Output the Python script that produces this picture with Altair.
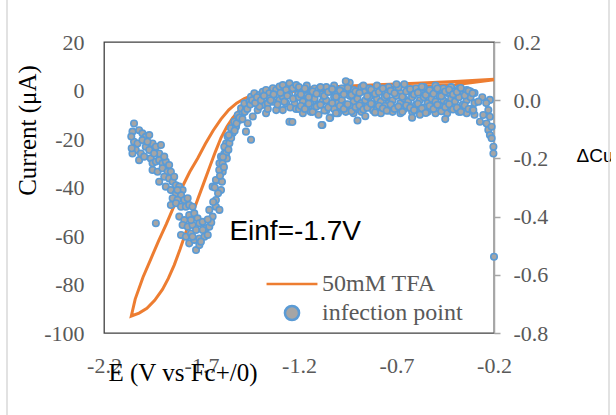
import altair as alt
import pandas as pd

SERIES = ["50mM TFA", "infection point"]
X_TICKS = [-2.2, -1.7, -1.2, -0.7, -0.2]
Y_LEFT_TICKS = [-100, -80, -60, -40, -20, 0, 20]
Y_RIGHT_TICKS = [-0.8, -0.6, -0.4, -0.2, 0.0, 0.2]

# ---- CV curve (50mM TFA), left axis: outer branch (right -> tip), then inner branch (tip -> right)
CV_OUT_E = [-0.20, -0.40, -0.60, -0.80, -1.00, -1.20, -1.30, -1.35, -1.40, -1.44, -1.48, -1.52, -1.56,
            -1.60, -1.64, -1.68, -1.72, -1.76, -1.80, -1.84, -1.88, -1.92, -1.96, -2.00, -2.04, -2.06]
CV_OUT_I = [4.6, 3.7, 3.0, 2.4, 1.7, 0.9, 0.1, -0.4, -1.2, -2.0, -3.3, -5.2, -8.0,
            -11.8, -16.5, -22.0, -28.0, -33.5, -40.0, -47.5, -55.0, -62.0, -69.5, -77.0, -86.0, -93.0]
CV_IN_E = [-2.02, -1.98, -1.94, -1.90, -1.87, -1.84, -1.81, -1.78, -1.75, -1.72, -1.69, -1.66, -1.63, -1.60,
           -1.57, -1.54, -1.51, -1.47, -1.43, -1.39, -1.35, -1.28, -1.20, -1.00, -0.80, -0.60, -0.40, -0.20]
CV_IN_I = [-91.8, -89.8, -86.5, -82.0, -77.5, -72.0, -65.5, -58.5, -51.5, -45.0, -38.5, -32.0, -25.5, -19.5,
           -15.0, -11.3, -8.5, -5.8, -3.8, -2.4, -1.4, -0.6, -0.2, 0.4, 1.0, 1.6, 2.4, 4.4]

# ---- derivative scatter ("infection point"), right axis
LEFT_E = [-2.046, -2.054, -2.020, -2.003, -1.986, -1.968, -2.046, -2.028, -2.037, -2.054,
          -2.011, -1.986, -1.968, -1.951, -1.934, -1.917, -1.908, -2.020, -1.994, -1.960,
          -1.951, -1.934, -1.917, -1.900, -1.883, -1.866, -1.951, -1.925, -1.900, -1.874,
          -1.857, -1.917, -1.891, -1.866, -1.848, -1.831, -1.814, -1.797, -1.883, -1.857,
          -1.831, -1.805, -1.848, -1.823, -1.788, -1.771, -1.857, -1.831, -1.805, -1.780,
          -1.763, -1.814, -1.788, -1.763, -1.737, -1.720, -1.797, -1.771, -1.746, -1.711,
          -1.694, -1.805, -1.780, -1.754, -1.728, -1.677, -1.763, -1.737, -1.711, -1.685,
          -1.728, -1.711, -1.668, -1.660, -1.934, -2.003, -1.977, -1.943, -1.891, -1.840,
          -1.823, -1.746, -1.754, -1.694, -1.746, -1.703, -2.060, -2.058]
LEFT_V = [-0.080, -0.108, -0.103, -0.114, -0.126, -0.120, -0.143, -0.149, -0.171, -0.183,
          -0.183, -0.160, -0.171, -0.149, -0.160, -0.183, -0.154, -0.206, -0.194, -0.200,
          -0.217, -0.211, -0.206, -0.217, -0.211, -0.223, -0.240, -0.246, -0.234, -0.246,
          -0.246, -0.280, -0.263, -0.269, -0.280, -0.292, -0.297, -0.309, -0.297, -0.309,
          -0.320, -0.326, -0.337, -0.343, -0.343, -0.337, -0.360, -0.354, -0.366, -0.366,
          -0.360, -0.400, -0.412, -0.395, -0.389, -0.406, -0.429, -0.435, -0.429, -0.423,
          -0.418, -0.463, -0.469, -0.458, -0.446, -0.440, -0.492, -0.480, -0.475, -0.469,
          -0.515, -0.498, -0.463, -0.435, -0.423, -0.137, -0.143, -0.183, -0.194, -0.263,
          -0.309, -0.366, -0.412, -0.446, -0.469, -0.486, -0.125, -0.165]

RISE_E = [-1.660, -1.643, -1.626, -1.608, -1.626, -1.600, -1.617, -1.591, -1.608, -1.583, -1.574,
          -1.643, -1.626, -1.609, -1.592, -1.600, -1.574, -1.583, -1.557, -1.566, -1.540,
          -1.549, -1.523, -1.532, -1.506, -1.514, -1.489, -1.497, -1.472, -1.480, -1.454,
          -1.446, -1.420, -1.429, -1.403, -1.386, -1.369, -1.352, -1.334, -1.317, -1.300,
          -1.283, -1.266, -1.249, -1.232, -1.214,
          -1.446, -1.472, -1.463, -1.437, -1.412, -1.386, -1.360, -1.334, -1.300, -1.266,
          -1.249, -1.283, -1.223, -1.369, -1.403, -1.317, -1.249, -1.283, -1.352,
          -1.650, -1.668, -1.640, -1.615, -1.632, -1.595, -1.605, -1.585, -1.570, -1.590,
          -1.562, -1.548, -1.560, -1.530, -1.520, -1.505, -1.490, -1.478, -1.465, -1.450,
          -1.440, -1.425, -1.415, -1.395, -1.380, -1.360, -1.345, -1.330, -1.310, -1.295,
          -1.275, -1.260, -1.245, -1.230, -1.215, -1.205]
RISE_V = [-0.377, -0.400, -0.366, -0.377, -0.343, -0.309, -0.274, -0.246, -0.217, -0.183, -0.149,
          -0.297, -0.274, -0.240, -0.217, -0.194, -0.182, -0.160, -0.148, -0.125, -0.113,
          -0.096, -0.091, -0.074, -0.068, -0.051, -0.045, -0.028, -0.022, -0.011, -0.005,
          0.012, 0.006, 0.024, 0.018, 0.029, 0.035, 0.024, 0.041, 0.035, 0.047,
          0.052, 0.035, 0.058, 0.041, 0.052,
          -0.136, -0.108, -0.079, -0.056, -0.034, -0.016, -0.011, -0.005, 0.001, -0.011,
          -0.074, -0.034, -0.011, -0.045, -0.022, -0.034, 0.018, 0.012, 0.006,
          -0.420, -0.410, -0.350, -0.320, -0.300, -0.280, -0.260, -0.230, -0.200, -0.195,
          -0.170, -0.130, -0.120, -0.105, -0.080, -0.060, -0.065, -0.040, -0.030, -0.015,
          0.000, -0.010, 0.010, 0.000, 0.015, -0.030, 0.000, 0.020, -0.015, 0.025,
          -0.005, 0.015, -0.025, 0.005, -0.030, 0.020]

FLAT_E = [-1.20, -1.18, -1.16, -1.14, -1.12, -1.10, -1.08, -1.06, -1.04, -1.02,
          -1.00, -0.98, -0.96, -0.94, -0.92, -0.90, -0.88, -0.86, -0.84, -0.82,
          -0.80, -0.78, -0.76, -0.74, -0.72, -0.70, -0.68, -0.66, -0.64, -0.62,
          -0.60, -0.58, -0.56, -0.54, -0.52, -0.50, -0.48, -0.46, -0.44, -0.42,
          -0.40, -0.38, -0.36, -0.34, -0.32, -0.30]
FLAT_V_HI = [0.045, 0.030, 0.050, 0.025, 0.040, 0.035, 0.020, 0.045, 0.030, 0.050,
             0.025, 0.040, 0.030, 0.060, 0.035, 0.025, 0.045, 0.030, 0.040, 0.020,
             0.050, 0.035, 0.025, 0.045, 0.030, 0.040, 0.025, 0.055, 0.035, 0.020,
             0.040, 0.030, 0.045, 0.025, 0.035, 0.050, 0.030, 0.040, 0.025, 0.045,
             0.030, 0.040, 0.020, 0.035, 0.030, 0.025]
FLAT_V_MID = [0.010, -0.005, 0.015, -0.010, 0.005, -0.015, -0.005, 0.000, -0.020, 0.010,
              -0.010, 0.000, -0.015, 0.015, -0.005, 0.005, -0.010, 0.000, 0.010, -0.015,
              0.005, -0.005, 0.010, -0.010, 0.000, 0.015, -0.010, 0.005, -0.005, 0.010,
              -0.015, 0.000, 0.010, -0.010, 0.005, -0.005, 0.015, 0.000, -0.010, 0.005,
              -0.005, 0.010, -0.015, 0.000, 0.010, -0.010]
FLAT_V_LO = [-0.030, -0.045, -0.020, -0.040, -0.025, -0.050, -0.085, -0.035, -0.060, -0.030,
             -0.045, -0.025, -0.040, -0.020, -0.045, -0.030, -0.040, -0.055, -0.025, -0.035,
             -0.030, -0.045, -0.020, -0.035, -0.040, -0.025, -0.045, -0.030, -0.020, -0.040,
             -0.035, -0.050, -0.025, -0.040, -0.030, -0.045, -0.020, -0.035, -0.045, -0.030,
             -0.025, -0.040, -0.035, -0.045, -0.030, -0.050]
FLAT2_E = [-1.19, -1.17, -1.15, -1.13, -1.11, -1.09, -1.07, -1.05, -1.03, -1.01,
           -0.99, -0.97, -0.95, -0.93, -0.91, -0.89, -0.87, -0.85, -0.83, -0.81,
           -0.79, -0.77, -0.75, -0.73, -0.71, -0.69, -0.67, -0.65, -0.63, -0.61,
           -0.59, -0.57, -0.55, -0.53, -0.51, -0.49, -0.47, -0.45, -0.43, -0.41,
           -0.39, -0.37, -0.35, -0.33, -0.31]
FLAT2_V_A = [0.020, 0.040, 0.010, 0.030, 0.022, 0.045, 0.015, 0.028, 0.038, 0.012,
             0.033, 0.020, 0.042, 0.018, 0.030, 0.025, 0.050, 0.014, 0.036, 0.022,
             0.028, 0.040, 0.016, 0.032, 0.024, 0.044, 0.012, 0.030, 0.038, 0.020,
             0.026, 0.046, 0.018, 0.034, 0.022, 0.040, 0.014, 0.030, 0.036, 0.020,
             0.028, 0.042, 0.016, 0.032, 0.024]
FLAT2_V_B = [-0.020, -0.030, -0.012, -0.040, -0.022, -0.016, -0.035, -0.025, -0.010, -0.045,
             -0.020, -0.030, -0.014, -0.038, -0.024, -0.018, -0.032, -0.026, -0.012, -0.042,
             -0.020, -0.028, -0.036, -0.015, -0.030, -0.022, -0.040, -0.018, -0.026, -0.034,
             -0.012, -0.028, -0.044, -0.020, -0.030, -0.016, -0.038, -0.024, -0.014, -0.032,
             -0.026, -0.040, -0.018, -0.030, -0.036]
OUT_E = [-1.234, -1.084, -1.043, -0.900, -0.620, -0.450, -0.960, -0.700]
OUT_V = [-0.075, -0.085, -0.061, -0.070, -0.060, -0.065, 0.065, 0.055]
END_E = [-0.306, -0.272, -0.255, -0.238, -0.229, -0.229, -0.221, -0.221, -0.221, -0.212,
         -0.212, -0.203, -0.203, -0.200, -0.260, -0.240, -0.280]
END_V = [-0.034, -0.074, -0.051, -0.080, -0.102, -0.034, -0.057, 0.001, -0.120, -0.091,
         -0.131, -0.160, -0.183, -0.538, 0.010, -0.010, -0.005]

EINF_LABEL = "Einf=-1.7V"
EINF_E, EINF_I = -1.557, -58.4

# ---- tables
cv_e = CV_OUT_E + CV_IN_E
cv_i = CV_OUT_I + CV_IN_I
cv = pd.DataFrame({"E": cv_e, "I": cv_i, "o": list(range(len(cv_e))), "series": SERIES[0]})

sc_e = (LEFT_E + RISE_E + FLAT_E + FLAT_E + FLAT_E + FLAT2_E + FLAT2_E + OUT_E + END_E)
sc_v = (LEFT_V + RISE_V + FLAT_V_HI + FLAT_V_MID + FLAT_V_LO + FLAT2_V_A + FLAT2_V_B + OUT_V + END_V)
sc = pd.DataFrame({"E": sc_e, "V": sc_v, "series": SERIES[1]})

SERIF = "Liberation Serif"
SANS = "Liberation Sans"
GRAY = "#595959"

x_scale = alt.Scale(domain=[-2.2, -0.2], nice=False, zero=False)
minus_fix = "replace(format(datum.value, '{}'), '\u2212', '-')"


def x_axis():
    return alt.Axis(orient="bottom", values=X_TICKS, labelExpr=minus_fix.format(".1f"), grid=False,
                    domain=False, ticks=False,
                    labelFont=SERIF, labelFontSize=22, labelColor=GRAY, labelPadding=22, labelFlush=False,
                    title="E (V vs Fc+/0)", titleFont=SERIF, titleFontSize=25, titleFontWeight="normal",
                    titleColor="black", titleAnchor="start", titleAlign="left", titleX=4, titleY=39,
                    titleBaseline="middle")


y_left_axis = alt.Axis(orient="left", values=Y_LEFT_TICKS, labelExpr=minus_fix.format("d"), grid=False,
                       domain=False, ticks=False, labelFont=SERIF, labelFontSize=22, labelColor=GRAY,
                       labelPadding=20, labelFlush=False,
                       title="Current (\u03bcA)", titleFont=SERIF, titleFontSize=25, titleFontWeight="normal",
                       titleColor="black", titleAngle=-90, titleX=-77, titleY=88, titleAlign="center",
                       titleBaseline="middle")

y_right_axis = alt.Axis(orient="right", values=Y_RIGHT_TICKS, labelExpr=minus_fix.format(".1f"), grid=False,
                        domain=True, domainColor="#a6a6a6", domainWidth=1.5, ticks=True, tickColor="#a6a6a6",
                        tickSize=6, tickWidth=1.5, labelFont=SERIF, labelFontSize=22, labelColor=GRAY,
                        labelPadding=13, labelFlush=False,
                        title="\u0394Current", titleFont=SANS, titleFontSize=19, titleFontWeight="normal",
                        titleColor="black", titleAngle=0, titleX=82, titleY=113, titleAlign="left",
                        titleBaseline="middle")

line = alt.Chart(cv).mark_line(strokeWidth=3, color="#ED7D31").encode(
    x=alt.X("E:Q", scale=x_scale, axis=x_axis()),
    y=alt.Y("I:Q", scale=alt.Scale(domain=[-100, 20], nice=False, zero=False), axis=y_left_axis),
    order="o:Q",
)

einf = alt.Chart(pd.DataFrame({"k": [0]})).mark_text(
    text=EINF_LABEL, font=SANS, fontSize=28, align="left", baseline="middle", color="black"
).encode(x=alt.datum(EINF_E, scale=x_scale, axis=x_axis()), y=alt.datum(EINF_I))

left_layer = alt.layer(line, einf)

leg = alt.Legend(title=None, orient="none", legendX=176, legendY=230, symbolSize=200, symbolStrokeWidth=2.5,
                 symbolOpacity=1, labelFont=SERIF, labelFontSize=24, labelColor=GRAY, labelOffset=18,
                 rowPadding=4, padding=0)

points = alt.Chart(sc).mark_point(filled=True, size=42, strokeWidth=1.6, opacity=1).encode(
    x=alt.X("E:Q", scale=x_scale, axis=x_axis()),
    y=alt.Y("V:Q", scale=alt.Scale(domain=[-0.8, 0.2], nice=False, zero=False), axis=y_right_axis),
    shape=alt.Shape("series:N", scale=alt.Scale(domain=SERIES, range=["M-3.6,0H3.6", "circle"]), legend=leg),
    fill=alt.Fill("series:N", scale=alt.Scale(domain=SERIES, range=["transparent", "#A5A5A5"]), legend=leg),
    stroke=alt.Stroke("series:N", scale=alt.Scale(domain=SERIES, range=["#ED7D31", "#5B9BD5"]), legend=leg),
)

frame_df = pd.DataFrame({"k": [0]})
frame_l = alt.Chart(frame_df).mark_rule(color="#d9d9d9", strokeWidth=1.5).encode(
    x=alt.value(-97), y=alt.value(-42), y2=alt.value(373))
frame_r = alt.Chart(frame_df).mark_rule(color="#d9d9d9", strokeWidth=1.5).encode(
    x=alt.value(505), y=alt.value(-42), y2=alt.value(373))

chart = alt.layer(frame_l, frame_r, left_layer, points).resolve_scale(
    y="independent"
).properties(
    width=390, height=291,
    autosize=alt.AutoSizeParams(type="none"),
    padding={"left": 104, "top": 42, "right": 117, "bottom": 82},
    background="white",
).configure_view(stroke="#404040", strokeWidth=1.3)

chart.save("out.html", embed_options={"renderer": "svg", "actions": False})
